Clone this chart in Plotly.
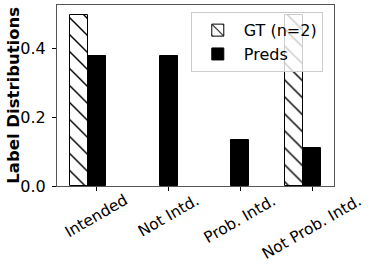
import plotly.graph_objects as go

categories = ["Intended", "Not Intd.", "Prob. Intd.", "Not Prob. Intd."]
gt_values = [0.5, 0.0, 0.0, 0.5]
pred_values = [0.378, 0.380, 0.135, 0.110]
y_ticks = [0.0, 0.2, 0.4]
y_tick_labels = ["0.0", "0.2", "0.4"]

W = 0.25
pos = list(range(len(categories)))
FONT = "DejaVu Sans"

fig = go.Figure()
fig.add_trace(go.Bar(
    x=[p - W for p in pos], y=gt_values, width=W, name="GT (n=2)",
    marker=dict(color="white",
                line=dict(color="black", width=[1 if v else 0 for v in gt_values]),
                pattern=dict(shape="\\", fgcolor="black", bgcolor="white",
                             fgopacity=1, size=12, solidity=0.12)),
))
fig.add_trace(go.Bar(
    x=pos, y=pred_values, width=W, name="Preds",
    marker=dict(color="black", line=dict(color="black", width=1)),
))

for i, c in enumerate(categories):
    fig.add_annotation(x=i, y=-0.015, xref="x", yref="paper", text=c,
                       textangle=-30, showarrow=False, xanchor="center",
                       yanchor="top", font=dict(family=FONT, size=15.5, color="black"))

fig.add_annotation(x=-0.158, y=0.5, xref="paper", yref="paper",
                   text="Label Distributions", textangle=-90, showarrow=False,
                   xanchor="center", yanchor="middle",
                   font=dict(family=FONT, size=16.5, color="black", weight="bold"))

fig.update_layout(
    width=374, height=271,
    margin=dict(l=57, r=40, t=5, b=85, autoexpand=False),
    plot_bgcolor="white", paper_bgcolor="white",
    barmode="overlay", bargap=0,
    font=dict(family=FONT, size=15, color="black"),
    showlegend=True,
    legend=dict(x=0.483, y=0.96, xanchor="left", yanchor="top",
                bgcolor="rgba(255,255,255,0.8)", bordercolor="#cccccc",
                borderwidth=1, font=dict(family=FONT, size=16),
                itemwidth=42, tracegroupgap=0),
    xaxis=dict(range=[-0.55, 3.3], tickvals=pos, ticktext=categories,
               showticklabels=False, ticks="outside", ticklen=4,
               tickcolor="black", showline=True, linecolor="#555555",
               mirror=True, showgrid=False, zeroline=False),
    yaxis=dict(range=[0, 0.528], tickvals=y_ticks, ticktext=y_tick_labels,
               ticks="outside", ticklen=4, tickcolor="black",
               ticklabelstandoff=3,
               showline=True, linecolor="#555555", mirror=True,
               showgrid=False, zeroline=False,
               tickfont=dict(family=FONT, size=16)),
)

fig.write_html("out.html", config={"displayModeBar": False},
               post_script="document.body.style.margin='0';")
